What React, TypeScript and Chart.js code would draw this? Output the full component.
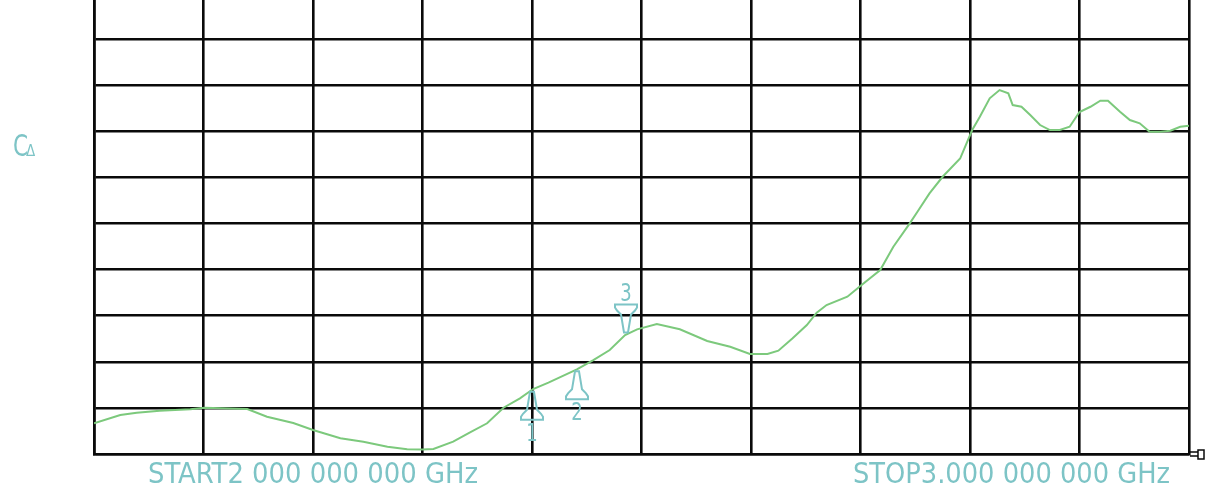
import React, { useEffect, useRef } from "react";
import { Chart, registerables } from "chart.js";

Chart.register(...registerables);

// Sweep frequency (GHz) and trace value (divisions above the reference line)
const freqGHz = [
  2.0, 2.024, 2.039, 2.06, 2.088, 2.101, 2.14, 2.158, 2.182, 2.2,
  2.225, 2.246, 2.268, 2.286, 2.3, 2.31, 2.328, 2.343, 2.359, 2.374,
  2.389, 2.401, 2.415, 2.441, 2.456, 2.471, 2.485, 2.496, 2.514, 2.535,
  2.56, 2.581, 2.599, 2.615, 2.625, 2.638, 2.651, 2.66, 2.669, 2.688,
  2.701, 2.718, 2.73, 2.745, 2.752, 2.763, 2.775, 2.791, 2.802, 2.809,
  2.818, 2.827, 2.835, 2.839, 2.847, 2.855, 2.864, 2.873, 2.882, 2.891,
  2.9, 2.91, 2.919, 2.926, 2.937, 2.946, 2.955, 2.964, 2.974, 2.983,
  2.992, 3.0,
];
const traceDiv = [
  0.666, 0.846, 0.896, 0.939, 0.97, 1.004, 0.976, 0.809, 0.672, 0.521,
  0.341, 0.267, 0.158, 0.102, 0.098, 0.108, 0.267, 0.466, 0.666, 1.004,
  1.208, 1.41, 1.547, 1.837, 2.039, 2.256, 2.581, 2.705, 2.82, 2.705,
  2.451, 2.328, 2.169, 2.169, 2.241, 2.51, 2.798, 3.065, 3.232, 3.412,
  3.666, 3.991, 4.497, 5.004, 5.256, 5.655, 6.015, 6.41, 7.028, 7.317,
  7.716, 7.896, 7.824, 7.57, 7.534, 7.354, 7.137, 7.028, 7.028, 7.1,
  7.419, 7.534, 7.664, 7.664, 7.425, 7.245, 7.174, 6.992, 6.992, 7.013,
  7.1, 7.122,
];

// Markers
const markerFreqs = [2.4, 2.441, 2.486];
const markerLabels = ["1", "2", "3"];
const markerInverted = [false, false, true];

// Annotation texts
const startLabel = "START2 000 000 000 GHz";
const stopLabel = "STOP3.000 000 000 GHz";
const channelLabel = "C";
const channelSub = "\u0394";
const refLevel = 0;

const CYAN = "#7dc4c6";
const GREEN = "#7cc97c";
const GRID = "#0a0a0a";
const FONT = "'Liberation Sans Narrow', 'DejaVu Sans Condensed', sans-serif";

function interp(f: number): number {
  for (let i = 0; i < freqGHz.length - 1; i++) {
    if (f >= freqGHz[i] && f <= freqGHz[i + 1]) {
      const t = (f - freqGHz[i]) / (freqGHz[i + 1] - freqGHz[i]);
      return traceDiv[i] + t * (traceDiv[i + 1] - traceDiv[i]);
    }
  }
  return traceDiv[traceDiv.length - 1];
}

function drawFitted(ctx: CanvasRenderingContext2D, text: string, x: number, baseline: number, width: number, size: number) {
  ctx.save();
  ctx.font = `${size}px ${FONT}`;
  ctx.textBaseline = "alphabetic";
  ctx.textAlign = "left";
  const w = ctx.measureText(text).width;
  ctx.translate(x, baseline);
  ctx.scale(width / w, 1);
  ctx.fillText(text, 0, 0);
  ctx.restore();
}

const markerShape: [number, number][] = [
  [-2, 0], [2, 0], [5, 18], [9, 22], [11, 25], [11, 28],
  [-11, 28], [-11, 25], [-9, 22], [-5, 18],
];

const overlayPlugin = {
  id: "overlay",
  afterDraw(chart: any) {
    const ctx: CanvasRenderingContext2D = chart.ctx;
    const xs = chart.scales.x;
    const ys = chart.scales.y;
    const area = chart.chartArea;
    ctx.save();
    ctx.strokeStyle = CYAN;
    ctx.fillStyle = CYAN;
    ctx.lineWidth = 2;
    ctx.lineJoin = "miter";

    markerFreqs.forEach((f, i) => {
      const px = Math.round(xs.getPixelForValue(f));
      const py = ys.getPixelForValue(interp(f));
      const inv = markerInverted[i];
      const s = inv ? -1 : 1;
      const top = py + s * 2;
      ctx.beginPath();
      markerShape.forEach(([dx, dy], k) => {
        const X = px + dx;
        const Y = top + s * dy;
        if (k === 0) ctx.moveTo(X, Y);
        else ctx.lineTo(X, Y);
      });
      ctx.closePath();
      ctx.stroke();
      ctx.save();
      ctx.font = `25px ${FONT}`;
      ctx.textAlign = "center";
      if (inv) {
        ctx.textBaseline = "alphabetic";
        ctx.translate(px, top - 28 - 4);
      } else {
        ctx.textBaseline = "top";
        ctx.translate(px, top + 30);
      }
      ctx.scale(0.8, 1);
      ctx.fillText(markerLabels[i], 0, 0);
      ctx.restore();
    });

    // start / stop annotations
    drawFitted(ctx, startLabel, area.left + 54, area.bottom + 29, 330, 29);
    drawFitted(ctx, stopLabel, area.left + 759, area.bottom + 29, 317, 29);

    // channel indicator
    ctx.save();
    ctx.font = `30px ${FONT}`;
    ctx.textAlign = "left";
    ctx.textBaseline = "alphabetic";
    ctx.translate(13, 156);
    ctx.scale(0.8, 1);
    ctx.fillText(channelLabel, 0, 0);
    ctx.restore();
    ctx.font = `15px ${FONT}`;
    ctx.fillText(channelSub, 26, 156);

    // reference level marker
    const ry = Math.round(ys.getPixelForValue(refLevel));
    ctx.strokeStyle = GRID;
    ctx.lineWidth = 1.5;
    ctx.beginPath();
    ctx.moveTo(area.right + 1, ry - 2);
    ctx.lineTo(area.right + 9, ry - 2);
    ctx.moveTo(area.right + 1, ry + 2);
    ctx.lineTo(area.right + 9, ry + 2);
    ctx.rect(area.right + 9, ry - 4, 6, 9);
    ctx.stroke();
    ctx.restore();
  },
};

export default function App() {
  const ref = useRef<HTMLCanvasElement | null>(null);
  useEffect(() => {
    if (!ref.current) return;
    const chart = new Chart(ref.current, {
      type: "line",
      data: {
        datasets: [
          {
            data: freqGHz.map((f, i) => ({ x: f, y: traceDiv[i] })),
            borderColor: GREEN,
            borderWidth: 2,
            pointRadius: 0,
            tension: 0,
            fill: false,
          },
        ],
      },
      options: {
        responsive: false,
        animation: false,
        layout: { padding: { left: 94, right: 30, top: 0, bottom: 40 } },
        plugins: { legend: { display: false }, tooltip: { enabled: false } },
        scales: {
          x: {
            type: "linear",
            min: 2,
            max: 3,
            ticks: { display: false, stepSize: 0.1 },
            grid: { color: GRID, lineWidth: 2.6, drawTicks: false },
            border: { color: GRID, width: 2.6 },
          },
          y: {
            type: "linear",
            min: 0,
            max: 9.85,
            ticks: { display: false, stepSize: 1, includeBounds: false },
            grid: { color: GRID, lineWidth: 2.6, drawTicks: false },
            border: { color: GRID, width: 2.6 },
          },
        },
      },
      plugins: [overlayPlugin],
    });
    return () => chart.destroy();
  }, []);
  return (
    <div style={{ position: "fixed", left: 0, top: 0, width: 1219, height: 494, background: "#fff" }}>
      <canvas ref={ref} width={1219} height={494} style={{ width: 1219, height: 494, display: "block" }} />
    </div>
  );
}
